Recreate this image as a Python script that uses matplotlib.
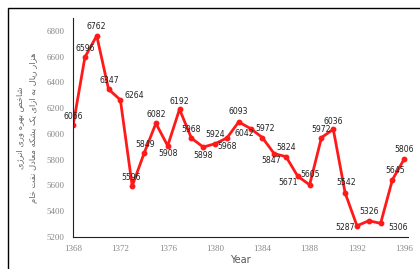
import matplotlib
matplotlib.use('Agg')
import matplotlib.pyplot as plt
from matplotlib.patches import Rectangle

years = list(range(1368, 1397))
values = [6066, 6596, 6762, 6347, 6264, 5596, 5849, 6082, 5908, 6192,
          5968, 5898, 5924, 5968, 6093, 6042, 5972, 5847, 5824, 5671,
          5605, 5972, 6036, 5542, 5287, 5326, 5306, 5645, 5806]
xticks = list(range(1368, 1397, 4))
yticks = list(range(5200, 6801, 200))
ylabel_lines = ['شاخص بهره وری انرژی', 'هزار ریال به ازای یک بشکه معادل نفت خام']

# label offsets in pixels (dx, dy) from each point
offsets = [(0, 9), (0, 9), (0, 9), (1, 9), (14, 4), (-1, 8),
           (1, 9), (0, 9), (0, -8), (0, 8), (0, 9), (0, -8), (0, 9),
           (0, -8), (0, 10), (-6, -5), (3, 9), (-3, -7), (0, 9), (-10, -6),
           (0, 10), (0, 8), (0, 8), (1, 10), (-12, -2), (0, 9), (17, -4),
           (3, 9), (0, 9)]

# minimal arabic/persian shaping -> presentation forms (iso, fin, ini, med)
forms = {
    'ا': ('\uFE8D', '\uFE8E', None, None),
    'ب': ('\uFE8F', '\uFE90', '\uFE91', '\uFE92'),
    'ت': ('\uFE95', '\uFE96', '\uFE97', '\uFE98'),
    'خ': ('\uFEA5', '\uFEA6', '\uFEA7', '\uFEA8'),
    'د': ('\uFEA9', '\uFEAA', None, None),
    'ر': ('\uFEAD', '\uFEAE', None, None),
    'ز': ('\uFEAF', '\uFEB0', None, None),
    'ژ': ('\uFB8A', '\uFB8B', None, None),
    'ش': ('\uFEB5', '\uFEB6', '\uFEB7', '\uFEB8'),
    'ص': ('\uFEB9', '\uFEBA', '\uFEBB', '\uFEBC'),
    'ع': ('\uFEC9', '\uFECA', '\uFECB', '\uFECC'),
    'ف': ('\uFED1', '\uFED2', '\uFED3', '\uFED4'),
    'ک': ('\uFB8E', '\uFB8F', '\uFB90', '\uFB91'),
    'ل': ('\uFEDD', '\uFEDE', '\uFEDF', '\uFEE0'),
    'م': ('\uFEE1', '\uFEE2', '\uFEE3', '\uFEE4'),
    'ن': ('\uFEE5', '\uFEE6', '\uFEE7', '\uFEE8'),
    'ه': ('\uFEE9', '\uFEEA', '\uFEEB', '\uFEEC'),
    'و': ('\uFEED', '\uFEEE', None, None),
    'ی': ('\uFBFC', '\uFBFD', '\uFBFE', '\uFBFF'),
}


def shape(s):
    out = []
    for i, c in enumerate(s):
        if c not in forms:
            out.append(c)
            continue
        prev = s[i - 1] if i > 0 else ''
        nxt = s[i + 1] if i + 1 < len(s) else ''
        join_prev = prev in forms and forms[prev][2] is not None
        dual = forms[c][2] is not None
        join_next = dual and nxt in forms
        iso, fin, ini, med = forms[c]
        if join_prev and join_next:
            out.append(med)
        elif join_prev:
            out.append(fin)
        elif join_next:
            out.append(ini)
        else:
            out.append(iso)
    return ''.join(out)[::-1]


fig = plt.figure(figsize=(4.2, 2.69), dpi=100)
ax = fig.add_axes([0.174, 0.119, 0.797, 0.814])

ax.plot(years, values, color='#ff1a1a', lw=2, marker='o', ms=3.2)
for x, y, (dx, dy) in zip(years, values, offsets):
    ax.annotate(str(y), (x, y), xytext=(dx, dy), textcoords='offset pixels',
                ha='center', va='center', fontsize=5.6, color='#222222',
                family='DejaVu Sans')

ax.set_xlim(1368, 1396.3)
ax.set_ylim(5200, 6900)
ax.set_xticks(xticks)
ax.set_yticks(yticks)
for s in ['top', 'right']:
    ax.spines[s].set_visible(False)
ax.spines['left'].set_color('#222222')
ax.spines['bottom'].set_color('#222222')
ax.tick_params(length=0, labelsize=6.5, labelcolor='#888888', pad=6)
for lab in ax.get_xticklabels() + ax.get_yticklabels():
    lab.set_family('Liberation Serif')

ax.set_xlabel('Year', fontsize=7, color='#555555', labelpad=1)
ax.set_ylabel('\n'.join(shape(t) for t in ylabel_lines), fontsize=6,
              color='#666666', family='DejaVu Sans', labelpad=6,
              linespacing=1.8)

fig.patches.append(Rectangle((8 / 420, -0.1), 1.2, 1 - 8 / 269 + 0.1,
                             transform=fig.transFigure, fill=False,
                             edgecolor='black', lw=1))

fig.savefig('out.png', dpi=100)
